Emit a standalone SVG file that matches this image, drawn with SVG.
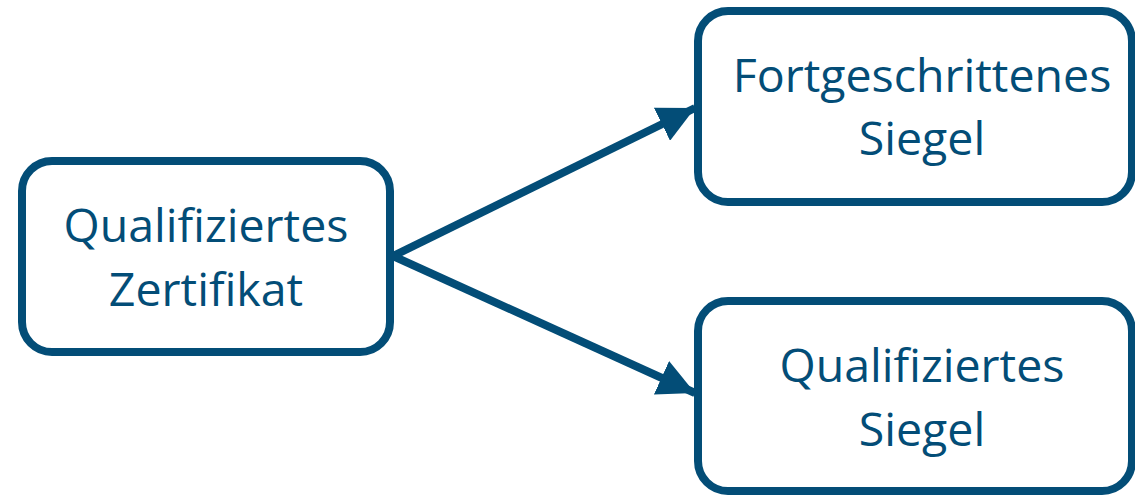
<svg xmlns="http://www.w3.org/2000/svg" width="1135" height="496" viewBox="0 0 1135 496">
<defs>
<style>
.box{fill:#ffffff;stroke:#034d77;stroke-width:8}
.lbl{font-family:"Open Sans","Noto Sans",sans-serif;font-size:46.5px;fill:#034d77;text-anchor:middle}
.con{stroke:#034d77;stroke-width:8;fill:none}
</style>
<marker id="ah" viewBox="0 0 10 10" refX="10" refY="5" markerWidth="4.6" markerHeight="4.6" markerUnits="strokeWidth" orient="auto">
<path d="M0,0 L10,5 L0,10 Z" fill="#034d77"/>
</marker>
</defs>
<rect width="1135" height="496" fill="#ffffff"/>
<g id="connectors">
<line class="con" x1="393" y1="256" x2="695" y2="108" marker-end="url(#ah)"/>
<line class="con" x1="393" y1="256" x2="695" y2="393" marker-end="url(#ah)"/>
</g>
<g id="n1">
<rect class="box" x="22" y="161" width="368" height="191" rx="30"/>
<text class="lbl" x="206" y="242">Qualifiziertes</text>
<text class="lbl" x="206" y="306">Zertifikat</text>
</g>
<g id="n2">
<rect class="box" x="698" y="11" width="434" height="191" rx="30"/>
<text class="lbl" x="922" y="92">Fortgeschrittenes</text>
<text class="lbl" x="922" y="155">Siegel</text>
</g>
<g id="n3">
<rect class="box" x="698" y="301" width="434" height="190" rx="30"/>
<text class="lbl" x="922" y="382">Qualifiziertes</text>
<text class="lbl" x="922" y="446">Siegel</text>
</g>
</svg>
